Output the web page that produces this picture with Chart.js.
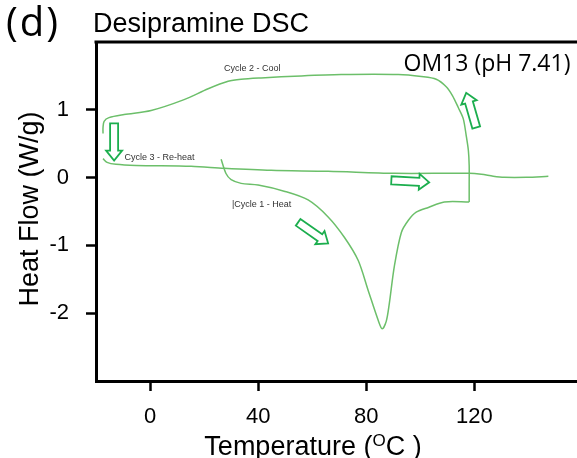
<!DOCTYPE html>
<html>
<head>
<meta charset="utf-8">
<script src="https://cdn.jsdelivr.net/npm/chart.js@4"></script>
<style>
  html, body { margin: 0; padding: 0; background: #fff; }
  #wrap { width: 577px; height: 458px; }
</style>
</head>
<body>
<div id="wrap"><canvas id="dsc"></canvas></div>
<script>
// Desipramine DSC - heat flow vs temperature

// Cycle 1 - Heat
const heatTemp = [26.3, 28.1, 30.0, 33.7, 40.0, 49.6, 58.5, 65.9, 71.9, 77.0, 80.7, 84.4, 85.9, 87.4, 88.5, 90.4, 93.0, 95.6, 98.5, 103.0, 108.9, 118.1];
const heatFlow = [0.27, 0.06, -0.03, -0.085, -0.11, -0.20, -0.33, -0.58, -0.88, -1.22, -1.66, -2.10, -2.23, -2.12, -1.87, -1.31, -0.81, -0.63, -0.51, -0.44, -0.36, -0.36];

// Cycle 2 - Cool
const coolTemp = [118.1, 118.1, 118.1, 117.8, 117.0, 115.9, 114.1, 111.9, 109.6, 105.9, 100.4, 91.9, 70.7, 55.9, 41.1, 33.7, 28.9, 21.5, 12.6, 0.4, -9.6, -15.2, -17.0, -17.4, -17.4];
const coolFlow = [-0.36, -0.11, 0.18, 0.40, 0.62, 0.87, 1.03, 1.21, 1.34, 1.45, 1.49, 1.52, 1.52, 1.50, 1.47, 1.45, 1.42, 1.31, 1.15, 0.99, 0.93, 0.885, 0.83, 0.74, 0.65];

// Cycle 3 - Re-heat
const reheatTemp = [-17.4, -15.9, -12.6, -5.2, 15.2, 27.4, 44.8, 65.9, 90.4, 118.1, 122.6, 127.0, 131.1, 139.3, 147.4];
const reheatFlow = [0.28, 0.225, 0.196, 0.18, 0.166, 0.137, 0.107, 0.093, 0.063, 0.063, 0.049, 0.02, 0.004, 0.004, 0.019];

const xTicks = [0, 40, 80, 120];
const yTicks = [-2, -1, 0, 1];

// curve labels (data units)
const noteText = ['Cycle 2 - Cool', 'Cycle 3 - Re-heat', '|Cycle 1 - Heat'];
const noteTemp = [37.8, 3.5, 41.3];
const noteFlow = [1.61, 0.30, -0.39];

// direction arrows: tail -> tip (data units)
const arrowTailTemp = [-13.3, 120.7, 89.3, 54.8];
const arrowTailFlow = [0.80, 0.74, -0.04, -0.66];
const arrowTipTemp = [-13.3, 117.0, 103.3, 65.9];
const arrowTipFlow = [0.25, 1.25, -0.07, -0.97];

const lineGreen = '#6cbf6a';
const arrowGreen = '#1cae4e';

function pts(xs, ys) {
  return xs.map((x, i) => ({ x: x, y: ys[i] }));
}

function drawArrow(ctx, x1, y1, x2, y2) {
  const dx = x2 - x1, dy = y2 - y1;
  const len = Math.sqrt(dx * dx + dy * dy);
  const ux = dx / len, uy = dy / len;
  const nx = -uy, ny = ux;
  const sw = 4, hw = 8, hl = 10;
  const bx = x2 - ux * hl, by = y2 - uy * hl;
  ctx.beginPath();
  ctx.moveTo(x1 + nx * sw, y1 + ny * sw);
  ctx.lineTo(bx + nx * sw, by + ny * sw);
  ctx.lineTo(bx + nx * hw, by + ny * hw);
  ctx.lineTo(x2, y2);
  ctx.lineTo(bx - nx * hw, by - ny * hw);
  ctx.lineTo(bx - nx * sw, by - ny * sw);
  ctx.lineTo(x1 - nx * sw, y1 - ny * sw);
  ctx.closePath();
  ctx.stroke();
}

const decorations = {
  id: 'decorations',
  afterDatasetsDraw(chart) {
    const ctx = chart.ctx;
    const xs = chart.scales.x, ys = chart.scales.y;
    ctx.save();
    // arrows
    ctx.strokeStyle = arrowGreen;
    ctx.lineWidth = 1.8;
    ctx.lineJoin = 'miter';
    for (let i = 0; i < arrowTailTemp.length; i++) {
      drawArrow(ctx,
        xs.getPixelForValue(arrowTailTemp[i]), ys.getPixelForValue(arrowTailFlow[i]),
        xs.getPixelForValue(arrowTipTemp[i]), ys.getPixelForValue(arrowTipFlow[i]));
    }
    // curve labels
    ctx.fillStyle = '#333';
    ctx.font = '9px "Liberation Sans", Arial, sans-serif';
    ctx.textAlign = 'center';
    ctx.textBaseline = 'middle';
    for (let i = 0; i < noteText.length; i++) {
      ctx.fillText(noteText[i], xs.getPixelForValue(noteTemp[i]), ys.getPixelForValue(noteFlow[i]));
    }
    ctx.restore();
  },
  afterDraw(chart) {
    const ctx = chart.ctx;
    const area = chart.chartArea;
    ctx.save();
    // top frame line
    ctx.strokeStyle = '#000';
    ctx.lineWidth = 3;
    ctx.beginPath();
    ctx.moveTo(area.left - 1.5, area.top);
    ctx.lineTo(chart.width, area.top);
    ctx.stroke();

    ctx.fillStyle = '#000';
    ctx.textBaseline = 'alphabetic';
    ctx.textAlign = 'left';
    // panel letter
    ctx.font = '40px "Open Sans", sans-serif';
    ctx.letterSpacing = '2px';
    ctx.fillText('(d)', 6, 36);
    ctx.letterSpacing = '0px';
    // title
    ctx.font = '27px "Liberation Sans", Arial, sans-serif';
    ctx.fillText('Desipramine DSC', 93, 32);
    // sample label
    ctx.font = '23px "Open Sans", sans-serif';
    ctx.textAlign = 'center';
    ctx.fillText('OM13 (pH 7.41)', 487, 71);

    // x axis title with superscript O
    ctx.textAlign = 'left';
    const big = '27px "Liberation Sans", Arial, sans-serif';
    const small = '17px "Liberation Sans", Arial, sans-serif';
    ctx.font = big;
    const a = 'Temperature (', c = 'C )';
    const wa = ctx.measureText(a).width, wc = ctx.measureText(c).width;
    ctx.font = small;
    const wo = ctx.measureText('O').width;
    const total = wa + wo + wc;
    let x0 = 313 - total / 2;
    const base = 455;
    ctx.font = big;
    ctx.fillText(a, x0, base);
    ctx.font = small;
    ctx.fillText('O', x0 + wa, base - 9);
    ctx.font = big;
    ctx.fillText(c, x0 + wa + wo, base);

    // y axis title
    ctx.translate(38, 209);
    ctx.rotate(-Math.PI / 2);
    ctx.textAlign = 'center';
    ctx.fillText('Heat Flow (W/g)', 0, 0);
    ctx.restore();
  }
};

const lineStyle = {
  showLine: true,
  borderColor: lineGreen,
  backgroundColor: lineGreen,
  borderWidth: 1.5,
  pointRadius: 0,
  tension: 0.3,
  fill: false
};

new Chart(document.getElementById('dsc'), {
  type: 'scatter',
  data: {
    datasets: [
      Object.assign({ label: 'Cycle 1 - Heat', data: pts(heatTemp, heatFlow) }, lineStyle),
      Object.assign({ label: 'Cycle 2 - Cool', data: pts(coolTemp, coolFlow) }, lineStyle),
      Object.assign({ label: 'Cycle 3 - Re-heat', data: pts(reheatTemp, reheatFlow) }, lineStyle)
    ]
  },
  options: {
    responsive: true,
    maintainAspectRatio: false,
    animation: false,
    devicePixelRatio: 1,
    layout: { padding: { top: 42, right: 0, left: 0, bottom: 0 } },
    plugins: {
      legend: { display: false },
      tooltip: { enabled: false },
      title: { display: false }
    },
    scales: {
      x: {
        type: 'linear',
        min: -20,
        max: 158,
        afterFit(scale) { scale.height = 77; },
        afterBuildTicks(scale) { scale.ticks = xTicks.map(v => ({ value: v })); },
        grid: {
          drawOnChartArea: false,
          drawTicks: true,
          tickLength: 10,
          tickWidth: 2.5,
          tickColor: '#000'
        },
        border: { display: true, color: '#000', width: 3 },
        ticks: {
          color: '#000',
          padding: 13,
          font: { family: '"Liberation Sans", Arial, sans-serif', size: 22 },
          callback: v => String(v)
        }
      },
      y: {
        type: 'linear',
        min: -3,
        max: 2,
        afterFit(scale) { scale.width = 96; },
        afterBuildTicks(scale) { scale.ticks = yTicks.map(v => ({ value: v })); },
        grid: {
          drawOnChartArea: false,
          drawTicks: true,
          tickLength: 10,
          tickWidth: 2.5,
          tickColor: '#000'
        },
        border: { display: true, color: '#000', width: 3 },
        ticks: {
          color: '#000',
          padding: 17,
          font: { family: '"Liberation Sans", Arial, sans-serif', size: 22 },
          callback: v => String(v)
        }
      }
    }
  },
  plugins: [decorations]
});
</script>
</body>
</html>
